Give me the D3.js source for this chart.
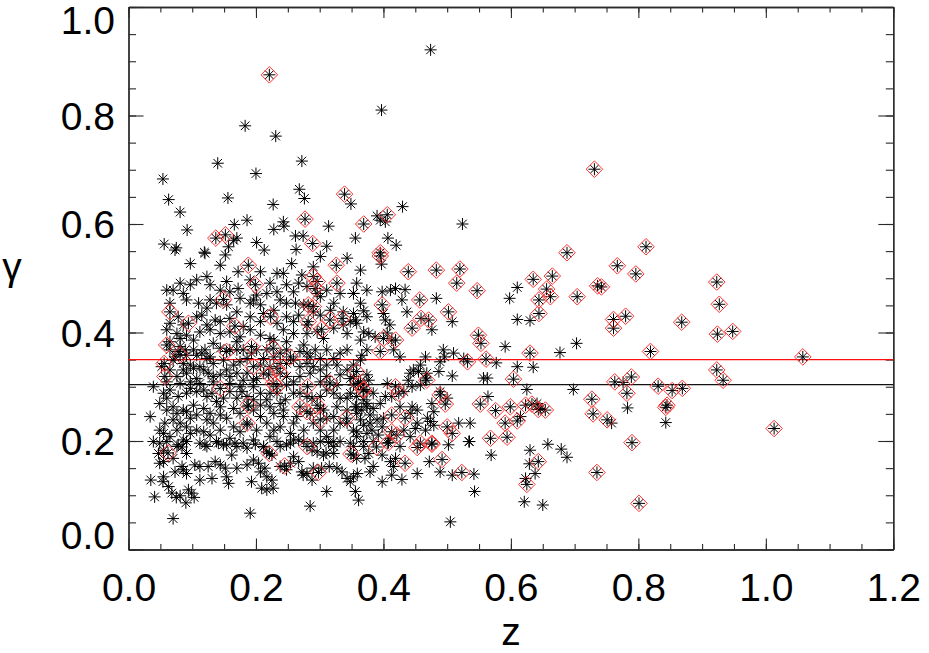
<!DOCTYPE html>
<html>
<head>
<meta charset="utf-8">
<script src="https://cdn.jsdelivr.net/npm/d3@7"></script>
<style>
body { margin: 0; background: #fff; }
text { font-family: "Liberation Sans", Arial, Helvetica, sans-serif; }
</style>
</head>
<body>
<script>
// [z, gamma] points drawn as asterisks only
var starsOnly = [
  [0.474,0.921],[0.397,0.810],
  [0.183,0.781],[0.231,0.762],[0.140,0.712],[0.272,0.716],[0.200,0.693],[0.054,0.683],[0.268,0.664],[0.276,0.647],
  [0.349,0.637],[0.063,0.645],[0.156,0.648],[0.081,0.622],[0.227,0.636],[0.186,0.607],[0.243,0.604],[0.244,0.596],
  [0.166,0.599],[0.228,0.590],[0.092,0.589],[0.314,0.596],[0.356,0.574],[0.390,0.615],[0.165,0.570],[0.170,0.574],
  [0.056,0.563],[0.075,0.556],[0.201,0.566],[0.213,0.552],[0.262,0.578],[0.274,0.578],[0.263,0.553],[0.311,0.559],
  [0.119,0.548],[0.157,0.558],
  [0.395,0.607],[0.403,0.604],[0.430,0.632],[0.524,0.600],[0.407,0.574],[0.420,0.561],[0.397,0.526],
  [0.353,0.472],[0.398,0.475],[0.411,0.478],[0.419,0.481],[0.434,0.479],[0.369,0.440],[0.356,0.423],[0.400,0.435],
  [0.403,0.423],[0.410,0.414],[0.429,0.460],[0.437,0.438],[0.483,0.463],[0.476,0.405],[0.508,0.420],[0.348,0.420],
  [0.369,0.401],[0.387,0.392],[0.406,0.399],[0.413,0.386],[0.416,0.368],[0.426,0.355],[0.366,0.358],[0.591,0.374],
  [0.610,0.483],[0.598,0.463],[0.610,0.424],[0.630,0.422],[0.703,0.380],[0.677,0.363],[0.635,0.336],[0.610,0.337],
  [0.577,0.344],[0.526,0.352],[0.494,0.368],[0.510,0.362],[0.489,0.346],[0.496,0.355],[0.466,0.355],[0.458,0.340],
  [0.455,0.328],[0.447,0.331],[0.468,0.325],[0.466,0.316],[0.442,0.325],[0.439,0.312],[0.487,0.328],[0.557,0.316],
  [0.563,0.316],[0.508,0.320],[0.625,0.295],[0.698,0.295],[0.641,0.269],[0.646,0.260],[0.615,0.245],[0.564,0.282],
  [0.500,0.279],[0.489,0.291],[0.476,0.269],[0.479,0.254],[0.474,0.236],[0.536,0.233],[0.518,0.233],[0.534,0.199],
  [0.410,0.205],[0.406,0.196],[0.390,0.239],[0.379,0.248],[0.384,0.260],[0.374,0.269],[0.382,0.220],[0.369,0.229],
  [0.358,0.217],[0.392,0.211],[0.398,0.226],[0.442,0.251],[0.453,0.257],[0.445,0.263],[0.450,0.223],[0.466,0.220],
  [0.479,0.229],[0.406,0.306],[0.403,0.282],[0.413,0.282],[0.432,0.291],[0.445,0.300],[0.458,0.303],
  [0.353,0.319],[0.364,0.306],[0.377,0.312],[0.384,0.288],[0.395,0.269],[0.356,0.263],[0.366,0.257],[0.379,0.233],
  [0.400,0.242],[0.426,0.263],[0.432,0.220],[0.442,0.208],[0.453,0.233],[0.469,0.242],[0.384,0.199],[0.369,0.190],
  [0.426,0.190],
  [0.776,0.308],[0.783,0.261],[0.843,0.234],[0.758,0.233],
  [0.650,0.082],[0.621,0.088],[0.623,0.131],[0.638,0.140],[0.629,0.158],[0.630,0.183],[0.658,0.194],[0.679,0.185],
  [0.688,0.170],[0.505,0.051],[0.543,0.107],[0.542,0.139],[0.508,0.137],[0.489,0.143],[0.472,0.162],[0.453,0.140],
  [0.429,0.129],[0.413,0.137],[0.398,0.125],[0.569,0.174],[0.535,0.199],[0.502,0.193],[0.419,0.168],[0.411,0.162],
  [0.416,0.153],[0.398,0.174],
  [0.035,0.128],[0.041,0.097],[0.070,0.057],[0.191,0.067],[0.285,0.080],[0.311,0.107],[0.361,0.091],[0.356,0.107],
  [0.049,0.159],[0.055,0.162],[0.055,0.134],[0.054,0.125],[0.063,0.116],[0.068,0.104],[0.075,0.096],[0.081,0.099],
  [0.090,0.086],[0.094,0.110],[0.099,0.104],[0.103,0.096],[0.073,0.143],[0.086,0.147],[0.091,0.140],[0.070,0.168],
  [0.084,0.153],[0.047,0.177],[0.055,0.183],[0.112,0.128],[0.131,0.131],[0.104,0.156],[0.112,0.153],[0.125,0.153],
  [0.136,0.162],[0.144,0.156],[0.152,0.150],[0.157,0.122],[0.154,0.134],[0.170,0.150],[0.186,0.156],[0.196,0.165],
  [0.204,0.159],[0.193,0.125],[0.209,0.113],[0.217,0.110],[0.227,0.113],[0.225,0.128],[0.217,0.134],[0.207,0.143],
  [0.214,0.150],[0.217,0.180],[0.225,0.174],[0.212,0.189],[0.238,0.153],[0.248,0.147],[0.254,0.159],[0.259,0.171],
  [0.267,0.162],[0.272,0.143],[0.280,0.140],[0.274,0.137],[0.288,0.128],[0.290,0.150],[0.303,0.150],[0.315,0.153],
  [0.327,0.150],[0.335,0.143],[0.343,0.131],[0.348,0.125],[0.353,0.134],[0.359,0.140],[0.353,0.174],[0.358,0.168],
  [0.371,0.168],[0.377,0.177],[0.379,0.143],[0.384,0.153],[0.288,0.183],[0.296,0.180],[0.306,0.174],[0.310,0.178],
  [0.322,0.177],[0.322,0.199],[0.301,0.199],[0.314,0.197],[0.039,0.199],[0.060,0.199],[0.078,0.193],[0.084,0.189],
  [0.091,0.177],[0.120,0.193],[0.141,0.196],[0.154,0.193],[0.162,0.174],[0.167,0.196],[0.180,0.196],[0.199,0.194],
  [0.233,0.199],[0.254,0.196],[0.267,0.202],
  [0.073,0.552],[0.120,0.546],[0.152,0.543],[0.097,0.527],[0.144,0.524],[0.172,0.512],[0.207,0.512],[0.233,0.509],
  [0.243,0.509],[0.256,0.527],[0.272,0.506],[0.290,0.521],[0.301,0.540],[0.343,0.537],[0.364,0.515],
  [0.070,0.478],[0.097,0.488],[0.086,0.472],[0.128,0.488],[0.144,0.478],[0.159,0.475],[0.172,0.481],[0.217,0.472],
  [0.233,0.475],[0.248,0.488],[0.267,0.491],[0.280,0.485],[0.311,0.478],[0.353,0.472],[0.374,0.478],
  [0.060,0.478],[0.081,0.491],[0.107,0.497],[0.123,0.503],[0.154,0.494],[0.191,0.497],[0.222,0.491],[0.259,0.475],
  [0.296,0.472],[0.332,0.472],[0.358,0.491],
  [0.110,0.454],[0.128,0.460],[0.138,0.454],[0.175,0.463],[0.191,0.454],[0.196,0.460],[0.201,0.469],[0.238,0.460],
  [0.262,0.454],[0.275,0.451],[0.301,0.466],[0.322,0.454],[0.364,0.454],[0.078,0.429],[0.107,0.429],[0.115,0.432],
  [0.136,0.423],[0.170,0.438],[0.191,0.429],[0.212,0.435],[0.248,0.429],[0.267,0.432],[0.301,0.432],[0.317,0.441],
  [0.353,0.435],[0.374,0.429],
  [0.065,0.454],[0.091,0.460],[0.123,0.445],[0.154,0.451],[0.207,0.451],[0.228,0.441],[0.248,0.454],[0.290,0.438],
  [0.337,0.438],[0.065,0.417],[0.086,0.414],[0.123,0.414],[0.144,0.420],[0.159,0.426],[0.180,0.411],[0.207,0.420],
  [0.233,0.417],[0.259,0.420],[0.280,0.414],[0.337,0.414],[0.358,0.417],
  [0.060,0.405],[0.076,0.398],[0.091,0.395],[0.112,0.401],[0.128,0.405],[0.144,0.398],[0.159,0.401],[0.175,0.392],
  [0.191,0.405],[0.207,0.395],[0.222,0.389],[0.243,0.405],[0.259,0.398],[0.280,0.398],[0.296,0.401],[0.322,0.408],
  [0.343,0.398],[0.364,0.386],[0.377,0.398],[0.065,0.383],[0.081,0.389],[0.102,0.386],[0.133,0.380],[0.170,0.383],
  [0.228,0.386],[0.248,0.383],[0.275,0.377],[0.306,0.389],
  [0.081,0.374],[0.089,0.368],[0.073,0.355],[0.107,0.358],[0.120,0.368],[0.128,0.355],[0.149,0.349],[0.159,0.368],
  [0.180,0.368],[0.193,0.362],[0.217,0.368],[0.238,0.362],[0.248,0.368],[0.280,0.362],[0.293,0.368],[0.311,0.368],
  [0.343,0.368],[0.374,0.368],
  [0.065,0.368],[0.078,0.365],[0.091,0.358],[0.102,0.368],[0.115,0.362],[0.123,0.352],[0.144,0.371],[0.170,0.368],
  [0.186,0.352],[0.201,0.368],[0.212,0.352],[0.228,0.355],[0.269,0.365],[0.285,0.355],[0.301,0.352],[0.322,0.352],
  [0.332,0.362],[0.364,0.349],[0.070,0.349],[0.086,0.343],[0.097,0.340],[0.112,0.337],[0.133,0.343],[0.165,0.340],
  [0.175,0.346],[0.207,0.340],[0.248,0.343],[0.259,0.349],[0.280,0.343],[0.327,0.340],[0.353,0.340],
  [0.052,0.337],[0.060,0.309],[0.086,0.331],[0.102,0.334],[0.125,0.325],[0.154,0.331],[0.159,0.319],[0.186,0.325],
  [0.196,0.312],[0.222,0.337],[0.238,0.343],[0.269,0.337],[0.290,0.337],[0.311,0.340],[0.343,0.331],[0.364,0.309],
  [0.039,0.300],[0.065,0.331],[0.076,0.319],[0.091,0.325],[0.107,0.315],[0.118,0.331],[0.133,0.319],[0.144,0.322],
  [0.170,0.325],[0.180,0.312],[0.201,0.315],[0.212,0.325],[0.248,0.319],[0.259,0.309],[0.269,0.319],[0.285,0.325],
  [0.301,0.331],[0.311,0.319],[0.332,0.322],[0.348,0.315],[0.374,0.322],[0.081,0.306],[0.097,0.309],[0.112,0.306],
  [0.133,0.309],[0.159,0.306],[0.175,0.300],[0.196,0.300],[0.248,0.303],[0.301,0.309],[0.327,0.303],[0.353,0.303],
  [0.049,0.269],[0.034,0.245],[0.065,0.294],[0.078,0.282],[0.091,0.288],[0.107,0.291],[0.123,0.282],[0.138,0.273],
  [0.159,0.291],[0.170,0.279],[0.186,0.282],[0.207,0.288],[0.217,0.276],[0.233,0.288],[0.246,0.276],[0.259,0.288],
  [0.280,0.282],[0.301,0.282],[0.322,0.288],[0.343,0.279],[0.358,0.282],[0.374,0.291],[0.070,0.263],[0.086,0.257],
  [0.102,0.266],[0.118,0.260],[0.144,0.263],[0.165,0.260],[0.196,0.257],[0.222,0.263],[0.243,0.257],[0.306,0.257],
  [0.327,0.263],[0.358,0.251],[0.374,0.263],
  [0.055,0.288],[0.060,0.279],[0.097,0.297],[0.118,0.294],[0.131,0.288],[0.149,0.279],[0.178,0.291],[0.196,0.276],
  [0.222,0.288],[0.238,0.269],[0.269,0.288],[0.288,0.279],[0.311,0.294],[0.332,0.279],[0.348,0.288],[0.369,0.276],
  [0.060,0.257],[0.076,0.251],[0.091,0.254],[0.107,0.248],[0.128,0.251],[0.144,0.248],[0.175,0.251],[0.186,0.263],
  [0.207,0.266],[0.228,0.251],[0.264,0.245],[0.285,0.251],[0.301,0.260],[0.322,0.245],[0.343,0.257],[0.358,0.263],
  [0.049,0.220],[0.055,0.214],[0.070,0.239],[0.081,0.233],[0.097,0.242],[0.107,0.220],[0.123,0.239],[0.133,0.233],
  [0.154,0.242],[0.165,0.226],[0.175,0.217],[0.207,0.245],[0.217,0.233],[0.228,0.220],[0.243,0.245],[0.259,0.233],
  [0.275,0.220],[0.290,0.233],[0.311,0.242],[0.322,0.220],[0.332,0.233],[0.353,0.220],[0.364,0.239],[0.374,0.214],
  [0.057,0.233],[0.076,0.220],[0.091,0.226],[0.118,0.217],[0.128,0.211],[0.144,0.220],[0.186,0.230],[0.201,0.220],
  [0.238,0.226],[0.254,0.214],[0.301,0.220],[0.343,0.233],[0.358,0.208],
  [0.065,0.208],[0.086,0.202],[0.097,0.214],[0.112,0.196],[0.138,0.199],[0.159,0.205],[0.170,0.190],[0.196,0.202],
  [0.222,0.208],[0.238,0.190],[0.259,0.202],[0.290,0.196],[0.311,0.208],[0.332,0.199],[0.353,0.190],[0.369,0.199],
  [0.049,0.196],[0.076,0.190],[0.091,0.199],[0.123,0.190],[0.149,0.193],[0.186,0.187],[0.212,0.190],[0.248,0.193],
  [0.275,0.199],[0.322,0.190],[0.348,0.196]
];

// [z, gamma] points that are also marked with a red diamond
var flagged = [
  [0.221,0.875],[0.339,0.655],[0.277,0.609],[0.369,0.600],[0.137,0.574],[0.152,0.580],[0.289,0.564],
  [0.406,0.617],[0.395,0.547],[0.731,0.701],[0.688,0.547],[0.812,0.558],
  [0.767,0.523],[0.796,0.508],[0.742,0.484],[0.923,0.493],[0.927,0.452],[0.761,0.424],[0.761,0.408],[0.780,0.430],
  [0.868,0.419],[0.924,0.397],[0.948,0.402],[0.819,0.365],[1.058,0.355],[0.923,0.331],[0.933,0.312],[0.763,0.309],
  [0.789,0.318],[0.782,0.288],[0.831,0.301],[0.853,0.293],[0.869,0.297],[0.845,0.266],[0.843,0.262],[0.751,0.239],
  [0.790,0.197],[1.013,0.223],[0.801,0.085],
  [0.395,0.541],[0.439,0.512],[0.483,0.515],[0.520,0.517],[0.515,0.491],[0.547,0.477],[0.398,0.451],[0.457,0.460],
  [0.459,0.426],[0.471,0.423],[0.445,0.408],[0.502,0.438],[0.400,0.389],[0.419,0.386],[0.395,0.365],[0.549,0.395],
  [0.553,0.380],[0.635,0.498],[0.665,0.504],[0.656,0.480],[0.644,0.460],[0.662,0.466],[0.644,0.435],[0.704,0.466],
  [0.630,0.362],[0.561,0.351],[0.532,0.346],[0.468,0.312],[0.604,0.314],[0.727,0.277],[0.729,0.250],[0.633,0.268],
  [0.654,0.257],[0.643,0.258],[0.599,0.263],[0.623,0.266],[0.576,0.256],[0.610,0.237],[0.591,0.233],[0.594,0.207],
  [0.568,0.205],[0.497,0.268],[0.489,0.285],[0.508,0.214],[0.500,0.226],[0.476,0.196],[0.458,0.196],[0.413,0.248],
  [0.413,0.217],[0.421,0.211],[0.419,0.300],[0.424,0.288],[0.434,0.242],[0.369,0.294],[0.361,0.306],[0.736,0.486],
  [0.552,0.268],
  [0.188,0.524],[0.326,0.524],[0.199,0.488],[0.149,0.461],[0.290,0.503],[0.296,0.494],[0.293,0.481],[0.327,0.491],
  [0.282,0.451],[0.290,0.448],[0.065,0.438],[0.094,0.417],[0.167,0.412],[0.223,0.429],[0.282,0.420],[0.303,0.406],
  [0.316,0.423],[0.335,0.426],[0.060,0.377],[0.081,0.359],[0.056,0.343],[0.057,0.319],[0.154,0.365],[0.193,0.374],
  [0.196,0.337],[0.227,0.371],[0.254,0.355],[0.220,0.322],[0.233,0.334],[0.238,0.325],[0.227,0.306],[0.233,0.300],
  [0.144,0.297],[0.188,0.266],[0.186,0.233],[0.281,0.300],[0.316,0.307],[0.358,0.328],[0.368,0.295],[0.269,0.263],
  [0.280,0.254],[0.296,0.266],[0.301,0.239],[0.342,0.242],
  [0.062,0.178],[0.221,0.177],[0.245,0.154],[0.298,0.142],[0.349,0.176],[0.280,0.190],[0.389,0.189],[0.625,0.120],
  [0.643,0.162],[0.523,0.142],[0.492,0.166],[0.476,0.194],[0.453,0.188],[0.434,0.159],[0.408,0.197],[0.735,0.142]
];

var xTickValues = [0, 0.2, 0.4, 0.6, 0.8, 1.0, 1.2];
var yTickValues = [0, 0.2, 0.4, 0.6, 0.8, 1.0];
var xTitle = "z";
var yTitle = "\u03b3";
// reference levels drawn across the plot
var redLevel = 0.35;
var blackLevel = 0.304;

var width = 929, height = 653;
var margin = {top: 7, right: 35.7, bottom: 103.5, left: 128.5};
var innerW = width - margin.left - margin.right;
var innerH = height - margin.top - margin.bottom;

var svg = d3.select("body").append("svg")
    .attr("width", width)
    .attr("height", height);

var g = svg.append("g")
    .attr("transform", "translate(" + margin.left + "," + margin.top + ")");

var x = d3.scaleLinear().domain([0, 1.2]).range([0, innerW]);
var y = d3.scaleLinear().domain([0, 1.0]).range([innerH, 0]);

var xMinor = d3.range(0, 1.2001, 0.05);
var yMinor = d3.range(0, 1.0001, 0.05);
var axisColor = "#2a2a2a";
var labelFont = "'Liberation Sans', Arial, Helvetica, sans-serif";

function styleAxis(sel) {
  sel.selectAll("path").attr("stroke", axisColor).attr("stroke-width", 1.3);
  sel.selectAll("line").attr("stroke", axisColor).attr("stroke-width", 1.1);
}

// minor ticks (inward, all four sides)
g.append("g").attr("transform", "translate(0," + innerH + ")")
  .call(d3.axisBottom(x).tickValues(xMinor).tickSize(-5.5).tickSizeOuter(0).tickFormat(""))
  .call(styleAxis);
g.append("g")
  .call(d3.axisTop(x).tickValues(xMinor).tickSize(-5.5).tickSizeOuter(0).tickFormat(""))
  .call(styleAxis);
g.append("g")
  .call(d3.axisLeft(y).tickValues(yMinor).tickSize(-7.5).tickSizeOuter(0).tickFormat(""))
  .call(styleAxis);
g.append("g").attr("transform", "translate(" + innerW + ",0)")
  .call(d3.axisRight(y).tickValues(yMinor).tickSize(-7.5).tickSizeOuter(0).tickFormat(""))
  .call(styleAxis);

// major ticks with labels
var xAxisG = g.append("g").attr("transform", "translate(0," + innerH + ")")
  .call(d3.axisBottom(x).tickValues(xTickValues).tickSize(-11).tickSizeOuter(0)
        .tickPadding(24).tickFormat(d3.format(".1f")))
  .call(styleAxis);
g.append("g")
  .call(d3.axisTop(x).tickValues(xTickValues).tickSize(-11).tickSizeOuter(0).tickFormat(""))
  .call(styleAxis);
var yAxisG = g.append("g")
  .call(d3.axisLeft(y).tickValues(yTickValues).tickSize(-15).tickSizeOuter(0)
        .tickPadding(13.5).tickFormat(d3.format(".1f")))
  .call(styleAxis);
g.append("g").attr("transform", "translate(" + innerW + ",0)")
  .call(d3.axisRight(y).tickValues(yTickValues).tickSize(-15).tickSizeOuter(0).tickFormat(""))
  .call(styleAxis);

xAxisG.selectAll("text")
  .attr("font-size", 39).attr("fill", "#000")
  .style("font-family", labelFont);

// y labels: keep the end labels inside the frame, as the original does
yAxisG.selectAll(".tick").each(function(d) {
  var ty = y(d);
  var base = Math.min(Math.max(ty + 13.7, 26.5), innerH - 1.5);
  d3.select(this).select("text")
    .attr("y", base - ty).attr("dy", null)
    .attr("font-size", 39).attr("fill", "#000")
    .style("font-family", labelFont);
});

// reference lines
g.append("line")
  .attr("x1", x(0)).attr("x2", x(1.2))
  .attr("y1", y(redLevel)).attr("y2", y(redLevel))
  .attr("stroke", "#ff1010").attr("stroke-width", 1.2);
g.append("line")
  .attr("x1", x(0)).attr("x2", x(1.2))
  .attr("y1", y(blackLevel)).attr("y2", y(blackLevel))
  .attr("stroke", "#111").attr("stroke-width", 1.4);

// asterisk markers
var asterisk = "M0,-6L0,6M-6,0L6,0M-4.3,-4.3L4.3,4.3M-4.3,4.3L4.3,-4.3";
var allStars = starsOnly.concat(flagged);

g.append("g").selectAll("path")
  .data(allStars)
  .enter().append("path")
  .attr("transform", function(d) { return "translate(" + x(d[0]) + "," + y(d[1]) + ")"; })
  .attr("d", asterisk)
  .attr("fill", "none")
  .attr("stroke", "#000")
  .attr("stroke-width", 1);

// red diamonds
var diamond = "M0,-8.3L8.3,0L0,8.3L-8.3,0Z";
g.append("g").selectAll("path")
  .data(flagged)
  .enter().append("path")
  .attr("transform", function(d) { return "translate(" + x(d[0]) + "," + y(d[1]) + ")"; })
  .attr("d", diamond)
  .attr("fill", "none")
  .attr("stroke", "#ff3030")
  .attr("stroke-width", 1);

// axis titles
svg.append("text")
  .attr("x", margin.left + innerW / 2)
  .attr("y", 645)
  .attr("text-anchor", "middle")
  .attr("font-size", 39)
  .text(xTitle);
svg.append("text")
  .attr("x", 12)
  .attr("y", 280)
  .attr("text-anchor", "middle")
  .attr("font-size", 39)
  .text(yTitle);
</script>
</body>
</html>
